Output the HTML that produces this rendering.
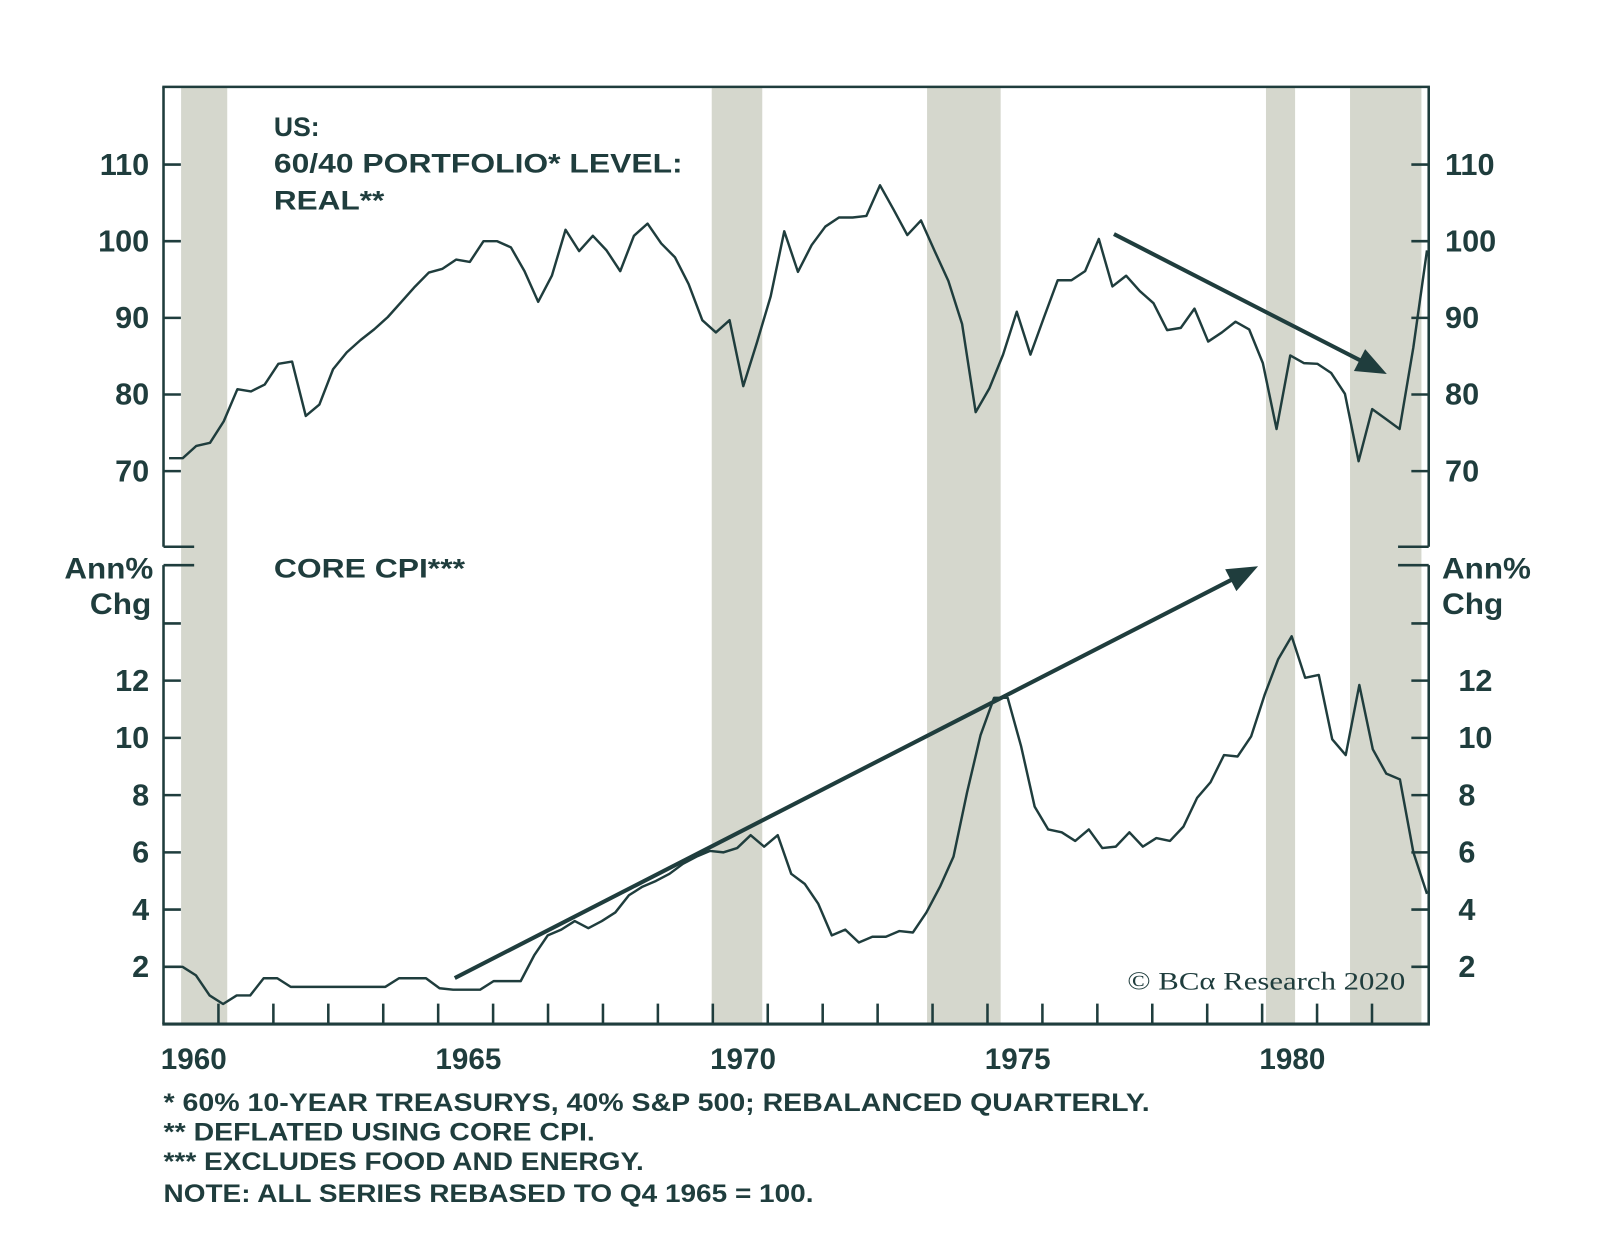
<!DOCTYPE html>
<html><head><meta charset="utf-8"><style>
html,body{margin:0;padding:0;background:#fff;width:1600px;height:1240px;overflow:hidden}
svg{display:block}
text{font-family:"Liberation Sans",Arial,sans-serif;font-weight:bold;fill:#1f3d3d}
</style></head><body>
<svg id="chart" width="1600" height="1240" viewBox="0 0 1565.6 1213.3" preserveAspectRatio="none" xmlns="http://www.w3.org/2000/svg">
<g id="bars"></g>
<g id="axes"></g>
<g id="series"></g>
<g id="labels">
<text x="268" y="133" font-size="26">US:</text>
<text x="268" y="169" font-size="26" textLength="400" lengthAdjust="spacingAndGlyphs">60/40 PORTFOLIO* LEVEL:</text>
<text x="268" y="205" font-size="26" textLength="108" lengthAdjust="spacingAndGlyphs">REAL**</text>
<text x="268" y="565" font-size="26" textLength="187" lengthAdjust="spacingAndGlyphs">CORE CPI***</text>
<text x="63" y="566" font-size="29" textLength="87" lengthAdjust="spacingAndGlyphs">Ann%</text>
<text x="88" y="601" font-size="29" textLength="60" lengthAdjust="spacingAndGlyphs">Chg</text>
<text x="1411" y="566" font-size="29" textLength="87" lengthAdjust="spacingAndGlyphs">Ann%</text>
<text x="1411" y="601" font-size="29" textLength="60" lengthAdjust="spacingAndGlyphs">Chg</text>
<text x="1103" y="968" font-size="25" style="font-family:'Liberation Serif',serif;font-weight:normal" textLength="272" lengthAdjust="spacingAndGlyphs">© BCα Research 2020</text>
<text x="160" y="1087" font-size="24" textLength="965" lengthAdjust="spacingAndGlyphs">*   60% 10-YEAR TREASURYS, 40% S&amp;P 500; REBALANCED QUARTERLY.</text>
<text x="160" y="1116" font-size="24" textLength="422" lengthAdjust="spacingAndGlyphs">**  DEFLATED USING CORE CPI.</text>
<text x="160" y="1145" font-size="24" textLength="470" lengthAdjust="spacingAndGlyphs">*** EXCLUDES FOOD AND ENERGY.</text>
<text x="160" y="1176" font-size="24" textLength="636" lengthAdjust="spacingAndGlyphs">NOTE: ALL SERIES REBASED TO Q4 1965 = 100.</text>
</g>
</svg>
<script>
const portfolio = [71.7,71.7,73.3,73.7,76.5,80.7,80.4,81.3,84,84.3,77.2,78.7,83.3,85.5,87.1,88.5,90.1,92.1,94.1,95.9,96.4,97.6,97.3,100,100,99.2,96.1,92.1,95.5,101.5,98.7,100.7,98.8,96.1,100.7,102.3,99.7,97.9,94.4,89.7,88.1,89.7,81.1,86.8,92.8,101.3,96,99.5,101.9,103.1,103.1,103.3,107.3,104.1,100.8,102.7,98.7,94.8,89.2,77.7,80.8,85.2,90.8,85.2,90.1,94.9,94.9,96.1,100.3,94.1,95.5,93.5,91.9,88.4,88.7,91.2,86.9,88.1,89.5,88.5,84.1,75.5,85.1,84.1,84,82.8,80.1,71.3,78.1,76.8,75.5,86.1,98.8];
const coreCpi = [2.0,2.0,1.7,1.0,0.7,1.0,1.0,1.6,1.6,1.3,1.3,1.3,1.3,1.3,1.3,1.3,1.3,1.6,1.6,1.6,1.25,1.2,1.2,1.2,1.5,1.5,1.5,2.4,3.1,3.3,3.6,3.35,3.6,3.9,4.5,4.8,5.0,5.25,5.6,5.85,6.05,6.0,6.15,6.6,6.2,6.6,5.25,4.9,4.2,3.1,3.3,2.85,3.05,3.05,3.25,3.2,3.9,4.8,5.85,8.1,10.1,11.4,11.4,9.7,7.6,6.8,6.7,6.4,6.8,6.15,6.2,6.7,6.2,6.5,6.4,6.9,7.9,8.45,9.4,9.35,10.05,11.5,12.75,13.55,12.1,12.2,9.95,9.4,11.85,9.6,8.75,8.55,6.0,4.55];
const seriesStart = 1960.1;
const seriesEnd = 1983.0;
const recessionStarts = [1960.32, 1969.98, 1973.9, 1980.07, 1981.6];
const recessionEnds = [1961.16, 1970.9, 1975.24, 1980.6, 1982.9];
const yearLabels = [1960, 1965, 1970, 1975, 1980];
const topTicks = [110, 100, 90, 80, 70];
const bottomTicks = [2, 4, 6, 8, 10, 12];
const bottomUnlabeledTicks = [14, 16];

const NS = "http://www.w3.org/2000/svg";
const C = "#1f3d3d";
const L = 160, R = 1398, T = 85, B = 1002, BRK1 = 535, BRK2 = 553;
function xs(t){ return L + (t - 1960) * 53.75; }
function yTop(v){ return 236 - (v - 100) * 7.5; }
function yBot(v){ return 946 - (v - 2) * 28; }
function mk(tag, attrs, parent){ const e=document.createElementNS(NS,tag); for(const k in attrs) e.setAttribute(k, attrs[k]); parent.appendChild(e); return e; }

const bars = document.getElementById('bars');
recessionStarts.forEach((s,i)=>{
  const r = mk('rect',{x:xs(s),y:T,width:xs(recessionEnds[i])-xs(s),height:B-T,fill:"#d5d7cd"},bars);
  
  
});

const ax = document.getElementById('axes');
function line(x1,y1,x2,y2,name,w){ const l = mk('line',{x1,y1,x2,y2,stroke:C,'stroke-width':w||2.5},ax);
  
   return l; }
line(L-1.2,T,R+1.2,T,'top-border');
line(L-1.2,B,R+1.2,B,'x-axis',3);
line(L,T,L,BRK1,'left-axis-top');
line(L,BRK2,L,B,'left-axis-bottom');
line(R,T,R,BRK1,'right-axis-top');
line(R,BRK2,R,B,'right-axis-bottom');
line(L,BRK1,L+30,BRK1,'left-break-mark');
line(L,BRK2,L+30,BRK2,'left-break-mark');
line(R-30,BRK1,R,BRK1,'right-break-mark');
line(R-30,BRK2,R,BRK2,'right-break-mark');

function ylab(x,y,txt,anchor,name){ const t = mk('text',{x,y:y+10,'font-size':30,'text-anchor':anchor},ax); t.textContent = txt;
  
   }
topTicks.forEach(v=>{
  const y=yTop(v);
  line(L,y,L+17,y,'left-tick'); line(R-17,y,R,y,'right-tick');
  ylab(146,y,String(v),'end','left-tick-label'); ylab(1414,y,String(v),'start','right-tick-label');
});
bottomTicks.forEach(v=>{
  const y=yBot(v);
  line(L,y,L+17,y,'left-tick'); line(R-17,y,R,y,'right-tick');
  ylab(146,y,String(v),'end','left-tick-label'); ylab(1427,y,String(v),'start','right-tick-label');
});
bottomUnlabeledTicks.forEach(v=>{
  const y=yBot(v);
  if (Math.abs(y-BRK2)>3){ line(L,y,L+17,y,'left-tick'); line(R-17,y,R,y,'right-tick'); }
});
for(let yr=1961; yr<=1982; yr++){ line(xs(yr),B,xs(yr),B-20,'x-tick'); }
yearLabels.forEach(yr=>{
  const t = mk('text',{x:xs(yr+0.55),y:1046,'font-size':29,'text-anchor':'middle'},ax); t.textContent=String(yr);
  
  
});

const sg = document.getElementById('series');
function drawSeries(arr, yf, name){
  const n = arr.length;
  const pts = arr.map((v,i)=> xs(seriesStart + (seriesEnd-seriesStart)*i/(n-1)).toFixed(1)+','+yf(v).toFixed(1)).join(' ');
  const p = mk('polyline',{points:pts,fill:'none',stroke:C,'stroke-width':2.4,'stroke-linejoin':'round'},sg);
  
  
}
drawSeries(portfolio, yTop, 'portfolio-line');
drawSeries(coreCpi, yBot, 'core-cpi-line');

function arrow(x1,y1,x2,y2,name){
  const g = mk('g',{},sg);
  
  
  const dx=x2-x1, dy=y2-y1, len=Math.hypot(dx,dy), ux=dx/len, uy=dy/len, h=30, w=12;
  const bx=x2-ux*h, by=y2-uy*h;
  mk('line',{x1,y1,x2:bx+ux*2,y2:by+uy*2,stroke:C,'stroke-width':4},g);
  mk('polygon',{points:`${x2},${y2} ${bx-uy*w},${by+ux*w} ${bx+uy*w},${by-ux*w}`,fill:C},g);
}
arrow(1090,229,1357,366,'downtrend-arrow');
arrow(445,957,1231,554,'uptrend-arrow');
</script>
</body></html>
